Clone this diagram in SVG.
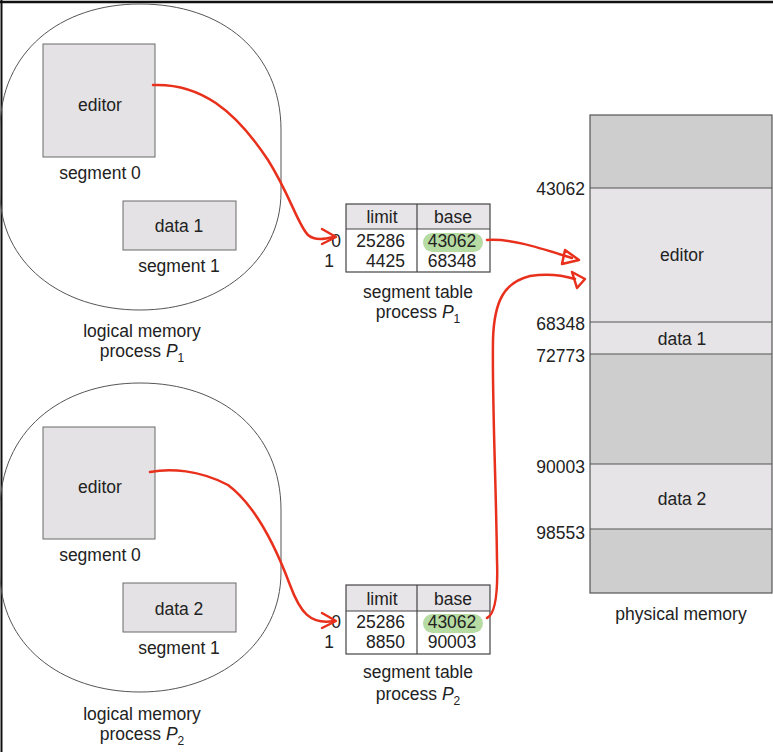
<svg xmlns="http://www.w3.org/2000/svg" width="773" height="752" viewBox="0 0 773 752">
<style>
text{font-family:"Liberation Sans",Arial,sans-serif;font-size:17.5px;fill:#222}
.m{text-anchor:middle}
.e{text-anchor:end}
.seg{fill:#e4e2e4;stroke:#6a6a6a;stroke-width:1}
.blob{fill:none;stroke:#555;stroke-width:1}
.hdr{fill:#e8e5e8}
.tb{fill:none;stroke:#444;stroke-width:1.2}
.free{fill:#cecece}
.used{fill:#e6e4e6}
.ln{stroke:#555;stroke-width:1.2}
.hl{fill:#b6dba3}
.red{fill:none;stroke:#e8301c;stroke-width:2.5;stroke-linecap:round;stroke-linejoin:round}
.sub{font-size:12px}
</style>
<rect width="773" height="752" fill="#fff"/>
<line x1="0" y1="2" x2="773" y2="2" stroke="#111" stroke-width="2.5"/>
<line x1="1.5" y1="0" x2="1.5" y2="752" stroke="#111" stroke-width="2"/>

<g id="logical-p1">
<path class="blob" d="M140,4 C222,4 281,52 281,130 L281,192 C281,262 218,310 140,310 C60,310 0,262 0,192 L0,130 C0,52 60,4 140,4 Z"/>
<rect class="seg" x="43" y="44" width="112" height="113"/>
<text class="m" x="100" y="111">editor</text>
<text class="m" x="100" y="179">segment 0</text>
<rect class="seg" x="123" y="201" width="113" height="49"/>
<text class="m" x="179" y="232">data 1</text>
<text class="m" x="179" y="272">segment 1</text>
<text class="m" x="142" y="337">logical memory</text>
<text class="m" x="142" y="357">process <tspan font-style="italic">P</tspan><tspan class="sub" dy="5">1</tspan></text>
</g>

<g id="logical-p2">
<path class="blob" d="M140,383 C222,383 281,432 281,510 L281,572 C281,644 218,692 140,692 C60,692 0,644 0,572 L0,510 C0,432 60,383 140,383 Z"/>
<rect class="seg" x="43" y="427" width="112" height="112"/>
<text class="m" x="100" y="493">editor</text>
<text class="m" x="100" y="561">segment 0</text>
<rect class="seg" x="123" y="583" width="113" height="49"/>
<text class="m" x="179" y="615">data 2</text>
<text class="m" x="179" y="654">segment 1</text>
<text class="m" x="142" y="720">logical memory</text>
<text class="m" x="142" y="740">process <tspan font-style="italic">P</tspan><tspan class="sub" dy="5">2</tspan></text>
</g>

<g id="table-p1">
<rect class="hdr" x="346" y="204" width="144" height="25"/>
<rect class="hl" x="423" y="233" width="60" height="19" rx="9.5"/>
<rect class="tb" x="346" y="204" width="144" height="68"/>
<line class="tb" x1="346" y1="229" x2="490" y2="229"/>
<line class="tb" x1="417" y1="204" x2="417" y2="272"/>
<text class="m" x="382" y="223">limit</text>
<text class="m" x="453" y="223">base</text>
<text class="e" x="341" y="247">0</text>
<text class="e" x="334" y="267">1</text>
<text class="e" x="405" y="247">25286</text>
<text class="e" x="405" y="267">4425</text>
<text class="m" x="452" y="247">43062</text>
<text class="m" x="452" y="267">68348</text>
<text class="m" x="418" y="298">segment table</text>
<text class="m" x="418" y="318">process <tspan font-style="italic">P</tspan><tspan class="sub" dy="5">1</tspan></text>
</g>

<g id="table-p2">
<rect class="hdr" x="346" y="585" width="144" height="26"/>
<rect class="hl" x="423" y="614" width="60" height="19" rx="9.5"/>
<rect class="tb" x="346" y="585" width="144" height="69"/>
<line class="tb" x1="346" y1="611" x2="490" y2="611"/>
<line class="tb" x1="417" y1="585" x2="417" y2="654"/>
<text class="m" x="382" y="605">limit</text>
<text class="m" x="453" y="605">base</text>
<text class="e" x="341" y="628">0</text>
<text class="e" x="334" y="648">1</text>
<text class="e" x="405" y="628">25286</text>
<text class="e" x="405" y="648">8850</text>
<text class="m" x="452" y="628">43062</text>
<text class="m" x="452" y="648">90003</text>
<text class="m" x="418" y="678">segment table</text>
<text class="m" x="418" y="700">process <tspan font-style="italic">P</tspan><tspan class="sub" dy="5">2</tspan></text>
</g>

<g id="physical-memory">
<rect class="free" x="590" y="115" width="182" height="73"/>
<rect class="used" x="590" y="188" width="182" height="166"/>
<rect class="free" x="590" y="354" width="182" height="110"/>
<rect class="used" x="590" y="464" width="182" height="65"/>
<rect class="free" x="590" y="529" width="182" height="64"/>
<rect x="590" y="115" width="182" height="478" fill="none" stroke="#555" stroke-width="1.2"/>
<line class="ln" x1="590" y1="188" x2="772" y2="188"/>
<line class="ln" x1="590" y1="322" x2="772" y2="322"/>
<line class="ln" x1="590" y1="354" x2="772" y2="354"/>
<line class="ln" x1="590" y1="464" x2="772" y2="464"/>
<line class="ln" x1="590" y1="529" x2="772" y2="529"/>
<text class="m" x="682" y="261">editor</text>
<text class="m" x="682" y="345">data 1</text>
<text class="m" x="682" y="505">data 2</text>
<text class="e" x="585" y="195">43062</text>
<text class="e" x="585" y="330">68348</text>
<text class="e" x="585" y="362">72773</text>
<text class="e" x="585" y="473">90003</text>
<text class="e" x="585" y="539">98553</text>
<text class="m" x="681" y="620">physical memory</text>
</g>

<g id="connectors">
<path class="red" d="M153,85 C200,83 235,110 268,160 C290,195 298,225 308,235 C315,241 325,239 334,237"/>
<path class="red" d="M322,229 L336,237 L322,244"/>
<path class="red" d="M150,472 C170,468 200,470 228,485 C255,505 275,545 290,585 C300,612 310,625 334,621"/>
<path class="red" d="M322,613 L336,621 L322,628"/>
<path class="red" d="M487,240 C510,238 540,248 572,258"/>
<path class="red" d="M565,250 L579,260 L562,264 Z"/>
<path class="red" d="M487,618 C496,614 498,590 497,560 C496,480 492,400 493,340 C494,300 505,282 530,276 C548,273 562,275 575,279"/>
<path class="red" d="M572,272 L585,279 L577,288 Z"/>
</g>
</svg>
